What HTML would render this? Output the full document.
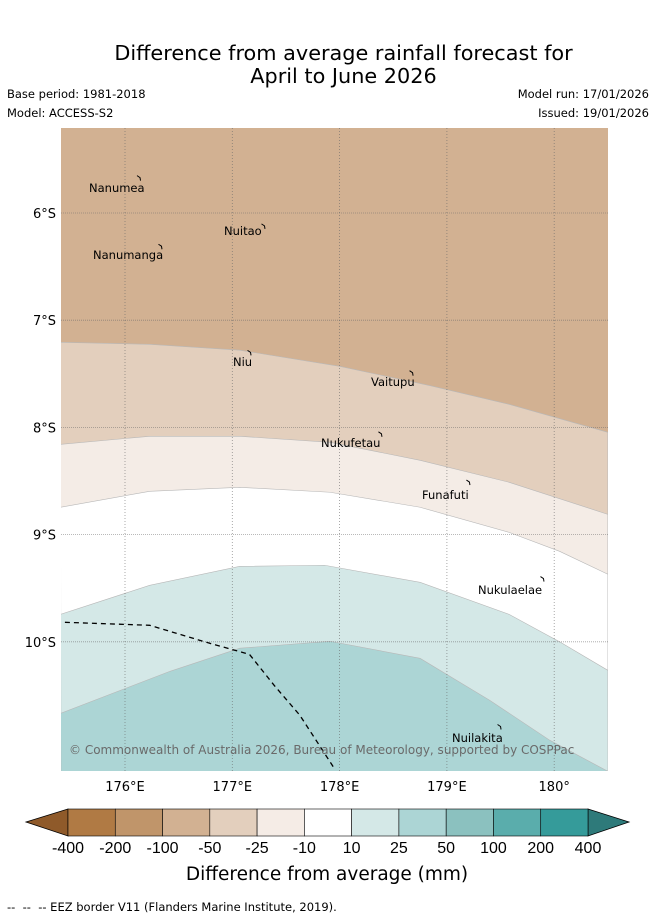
<!DOCTYPE html>
<html><head><meta charset="utf-8"><style>
body{margin:0;background:#fff;width:655px;height:919px;overflow:hidden;font-family:"DejaVu Sans","Liberation Sans",sans-serif}
.t{position:absolute;white-space:nowrap}
</style></head><body>
<div class="t" style="left:0;width:687px;top:42px;text-align:center;font-size:20.8px;line-height:23px">Difference from average rainfall forecast for<br>April to June 2026</div>
<div class="t" style="left:7px;top:87px;font-size:11.5px">Base period: 1981-2018</div>
<div class="t" style="left:7px;top:106px;font-size:11.5px">Model: ACCESS-S2</div>
<div class="t" style="right:6px;top:87px;font-size:11.5px">Model run: 17/01/2026</div>
<div class="t" style="right:6px;top:106px;font-size:11.5px">Issued: 19/01/2026</div>
<svg id="map" width="655" height="919" style="position:absolute;left:0;top:0"></svg>
<div class="t" style="left:7px;top:900px;font-size:11.5px">-- &nbsp;-- &nbsp;-- EEZ border V11 (Flanders Marine Institute, 2019).</div>
<script>
const lonTicks=[176,177,178,179,180];
const latTicks=[6,7,8,9,10];
const bandColors=["#d2b192","#e3cfbd","#f4ece6","#ffffff","#d4e8e7","#acd5d5"];
const b1=[[175.40,7.206],[176.23,7.225],[177.07,7.28],[178.00,7.43],[178.84,7.61],[179.58,7.785],[180.5,8.046]];
const b2=[[175.40,8.158],[176.23,8.083],[177.07,8.083],[177.91,8.139],[178.75,8.307],[179.58,8.512],[180.5,8.811]];
const b3=[[175.40,8.745],[176.23,8.596],[177.07,8.559],[177.91,8.605],[178.75,8.745],[179.58,8.979],[180.05,9.156],[180.5,9.37]];
const b4=[[175.40,9.744],[176.23,9.473],[177.07,9.296],[177.86,9.286],[178.75,9.445],[179.58,9.744],[180.05,10.0],[180.5,10.266]];
const b5=[[175.40,10.667],[176.42,10.275],[177.07,10.06],[177.91,9.995],[178.75,10.154],[179.40,10.546],[179.96,10.919],[180.5,11.208]];
const eez=[[175.44,9.818],[176.23,9.846],[176.51,9.93],[176.79,10.014],[177.16,10.117],[177.39,10.406],[177.63,10.686],[177.95,11.18]];
const islands=[["Nanumea",176.14,5.67,89,188],["Nuitao",177.30,6.12,224,231],["Nanumanga",176.34,6.31,93,255],["Niu",177.17,7.30,233,362],["Vaitupu",178.68,7.49,371,382],["Nukufetau",178.39,8.06,321,443],["Funafuti",179.21,8.51,422,495],["Nukulaelae",179.90,9.41,478,590],["Nuilakita",179.50,10.79,452,738]];
const bandLabels=["-400","-200","-100","-50","-25","-10","10","25","50","100","200","400"];
const cbColors=["#b07a44","#c0956a","#d2b192","#e3cfbd","#f5ece6","#ffffff","#d4e8e7","#acd5d5","#8bc1bf","#5aadac","#359b9a"];
const L=61,R=608,T=128,B=771;
const xs=lon=>125+(lon-176)*107.3;
const ys=lat=>213+(lat-6)*107.2;
const svg=document.getElementById('map');
const NS="http://www.w3.org/2000/svg";
function mk(tag,attrs,parent){const e=document.createElementNS(NS,tag);for(const k in attrs)e.setAttribute(k,attrs[k]);(parent||svg).appendChild(e);return e;}
const clip=mk('clipPath',{id:'c'});mk('rect',{x:L,y:T,width:R-L,height:B-T},clip);
const g=mk('g',{'clip-path':'url(#c)'});
let r=mk('rect',{x:L,y:T,width:R-L,height:B-T,fill:bandColors[0]},g);

[b1,b2,b3,b4,b5].forEach((b,i)=>{
 const pts=b.map(p=>xs(p[0])+','+ys(p[1])).join(' ')+' '+R+','+(B+5)+' '+L+','+(B+5);
 const p=mk('polygon',{points:pts,fill:bandColors[i+1],stroke:'#b8b8b8','stroke-width':0.6},g);
 
 
});
lonTicks.forEach(l=>{const x=xs(l);
 const ln=mk('line',{x1:x,x2:x,y1:T,y2:B,stroke:'#666','stroke-width':0.8,'stroke-dasharray':'1,2',opacity:0.7},g);
 
 const t=mk('text',{x:x,y:791,'text-anchor':'middle','font-size':13});t.textContent=l+'°'+(l<180?'E':'');
 });
latTicks.forEach(l=>{const y=ys(l);
 const ln=mk('line',{x1:L,x2:R,y1:y,y2:y,stroke:'#666','stroke-width':0.8,'stroke-dasharray':'1,1',opacity:0.6},g);
 
 const t=mk('text',{x:56,y:y+5,'text-anchor':'end','font-size':13});t.textContent=l+'°S';
 });
const e=mk('polyline',{points:eez.map(p=>xs(p[0])+','+ys(p[1])).join(' '),fill:'none',stroke:'#000','stroke-width':1.3,'stroke-dasharray':'5,4'},g);

islands.forEach(s=>{
 const m=mk('path',{d:`M${xs(s[1])-3},${ys(s[2])-2} l3,2 l0.5,3`,stroke:'#000',fill:'none','stroke-width':1},g);
 
 const t=mk('text',{x:s[3],y:s[4]+4,'font-size':11.5},g);t.textContent=s[0];
 });
const cp=mk('text',{x:69,y:754,'font-size':12,fill:'#6a6a6a'},g);cp.textContent='© Commonwealth of Australia 2026, Bureau of Meteorology, supported by COSPPac';

const cx0=68,cx1=588,cy0=809,cy1=836,w=(cx1-cx0)/cbColors.length;
const la=mk('polygon',{points:`${cx0},${cy0} 26,822 ${cx0},${cy1}`,fill:'#8f5a2a',stroke:'#000','stroke-width':0.8});

const ra=mk('polygon',{points:`${cx1},${cy0} 629,822 ${cx1},${cy1}`,fill:'#2e7a7a',stroke:'#000','stroke-width':0.8});

cbColors.forEach((c,i)=>{const s=mk('rect',{x:cx0+i*w,y:cy0,width:w,height:cy1-cy0,fill:c,stroke:'#000','stroke-width':0.6});
 });
bandLabels.forEach((l,i)=>{const t=mk('text',{x:cx0+i*w,y:853,'text-anchor':'middle','font-size':16,'font-family':'Liberation Sans, sans-serif'});t.textContent=l;
 });
const ct=mk('text',{x:327,y:880,'text-anchor':'middle','font-size':18.5});ct.textContent='Difference from average (mm)';

</script>
</body></html>
